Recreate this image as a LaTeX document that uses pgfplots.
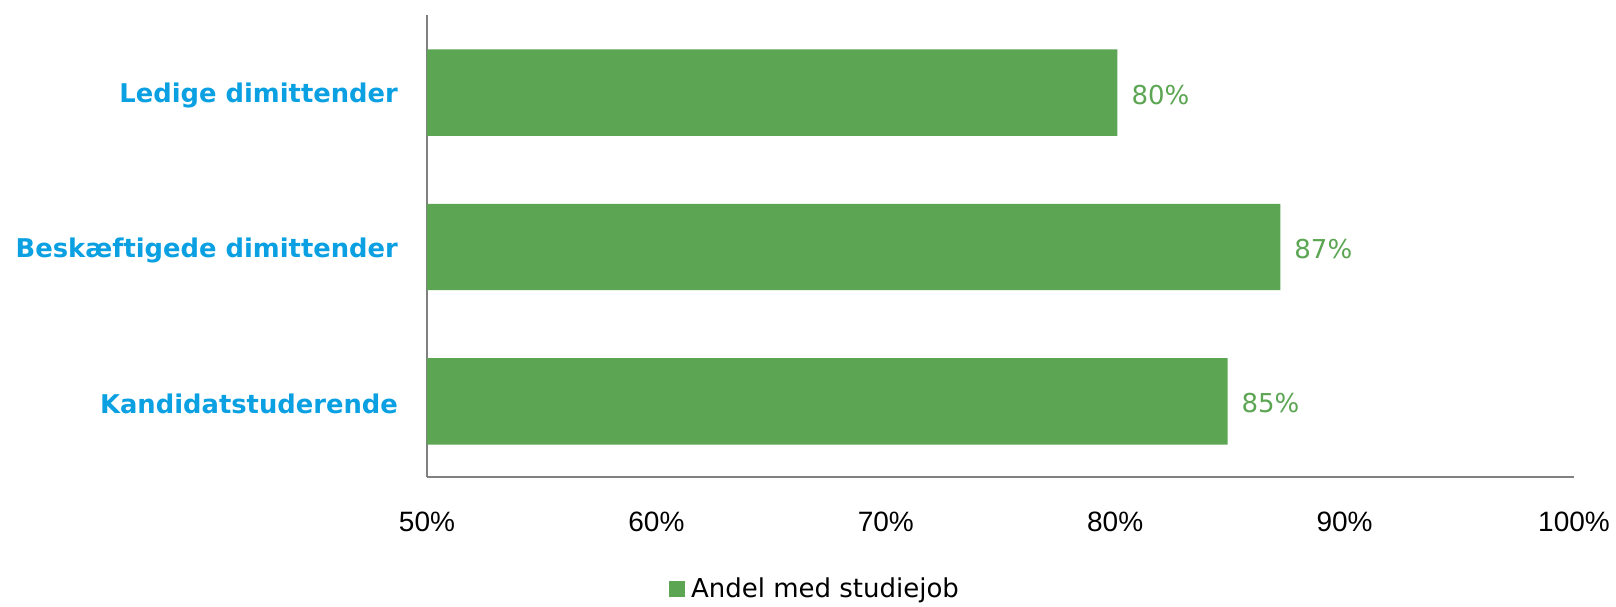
\documentclass[border=0pt]{standalone}
\usepackage{pgfplots}
\pgfplotsset{compat=1.18}
\usepackage{fontspec}
\setmainfont{DejaVu Sans}
\newfontfamily\tickfont{Liberation Sans}
\definecolor{barGreen}{HTML}{5BA553}
\definecolor{labBlue}{HTML}{0AA0E2}
\definecolor{axGray}{HTML}{808080}
\begin{document}
\begin{tikzpicture}
\useasboundingbox (-213.5pt,-64.5pt) rectangle (594.5pt,238.5pt);
\begin{axis}[
  at={(0,0)}, anchor=south west,
  scale only axis,
  width=573.5pt, height=230.75pt,
  xbar, bar width=0.56,
  xmin=50, xmax=100,
  ymin=-0.49, ymax=2.5,
  axis x line*=bottom, axis y line*=left,
  axis line style={axGray, line width=1pt},
  x axis line style={-}, y axis line style={-},
  xtick={50,60,70,80,90,100},
  xticklabel={\pgfmathprintnumber{\tick}\%},
  /pgf/number format/assume math mode=true,
  xticklabel style={font=\tickfont\fontsize{14}{16}\selectfont, yshift=-14pt},
  ytick={0,1,2},
  yticklabels={Kandidatstuderende, Beskæftigede dimittender, Ledige dimittender},
  yticklabel style={font=\bfseries\fontsize{12.9}{15}\selectfont, text=labBlue, xshift=-11pt, yshift=-1.5pt},
  major tick length=0pt,
  point meta=x,
  nodes near coords={\pgfmathprintnumber[fixed,precision=0]{\pgfplotspointmeta}\%},
  nodes near coords style={font=\fontsize{13}{15}\selectfont, text=barGreen, xshift=3.5pt, yshift=-1pt},
  legend style={at={(0.339,0)}, anchor=center, yshift=-56pt, draw=none, font=\fontsize{13}{15}\selectfont, inner sep=0pt},
  legend image code/.code={\fill[barGreen] (0pt,-4.1pt) rectangle (8.2pt,4.1pt);},
  legend cell align=left,
]
\addplot[fill=barGreen, draw=none] coordinates {(84.9,0) (87.2,1) (80.1,2)};
\addlegendentry{\hspace*{1pt}Andel med studiejob}
\end{axis}
\end{tikzpicture}
\end{document}
